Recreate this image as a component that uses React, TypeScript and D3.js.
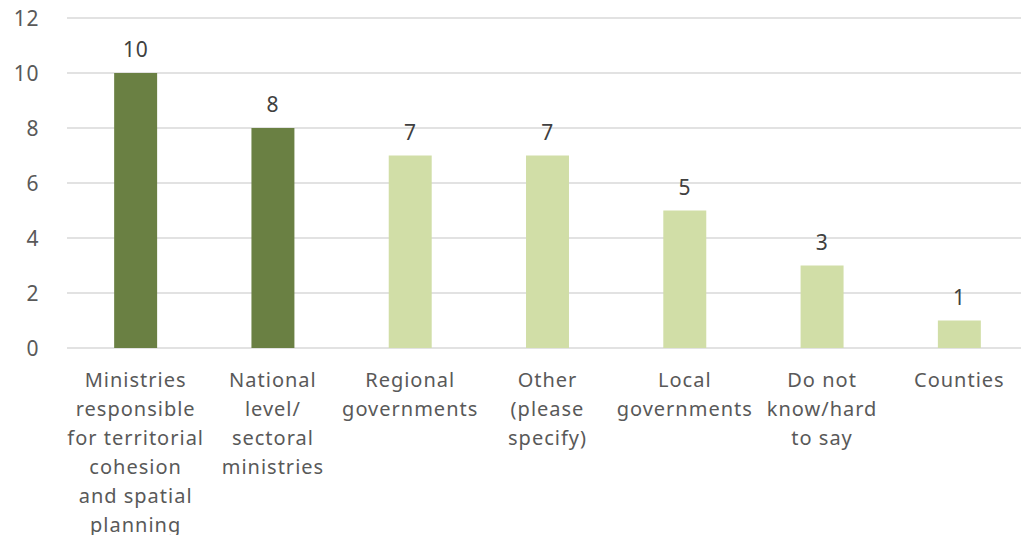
import React from "react";
import * as d3 from "d3";

const categories: string[][] = [
  ["Ministries", "responsible", "for territorial", "cohesion", "and spatial", "planning"],
  ["National", "level/", "sectoral", "ministries"],
  ["Regional", "governments"],
  ["Other", "(please", "specify)"],
  ["Local", "governments"],
  ["Do not", "know/hard", "to say"],
  ["Counties"],
];
const values: number[] = [10, 8, 7, 7, 5, 3, 1];
const highlighted: boolean[] = [true, true, false, false, false, false, false];
const yTicks: number[] = [0, 2, 4, 6, 8, 10, 12];

const W = 1021;
const H = 535;
const FONT = "'Noto Sans', 'DejaVu Sans', sans-serif";

export default function App() {
  const plotLeft = 67;
  const plotRight = 1028;
  const plotTop = 18;
  const plotBottom = 348;

  const x = d3
    .scaleBand<number>()
    .domain(values.map((_, i) => i))
    .range([plotLeft, plotRight])
    .paddingInner(0.687)
    .paddingOuter(0.3435);
  const y = d3.scaleLinear().domain([0, 12]).range([plotBottom, plotTop]);

  return (
    <svg
      width={W}
      height={H}
      style={{ position: "absolute", left: 0, top: 0, background: "#fff" }}
    >
      <rect width={W} height={H} fill="#fff" />
      {yTicks.map((t) => (
        <g key={t}>
          <line
            x1={plotLeft}
            x2={plotRight}
            y1={y(t)}
            y2={y(t)}
            stroke="#d9d9d9"
            strokeWidth={1.5}
          />
          <text
            x={39}
            y={y(t)}
            dy="0.36em"
            textAnchor="end"
            fontFamily={FONT}
            fontSize={21}
            letterSpacing={0.6}
            fill="#595959"
          >
            {t}
          </text>
        </g>
      ))}
      {values.map((v, i) => (
        <g key={i}>
          <rect
            x={x(i)}
            y={y(v)}
            width={x.bandwidth()}
            height={y(0) - y(v)}
            fill={highlighted[i] ? "#6a8043" : "#d1dea7"}
          />
          <text
            x={(x(i) as number) + x.bandwidth() / 2}
            y={y(v) - 16}
            textAnchor="middle"
            fontFamily={FONT}
            fontSize={21}
            letterSpacing={0.6}
            fill="#404040"
          >
            {v}
          </text>
          <text
            x={(x(i) as number) + x.bandwidth() / 2}
            y={387}
            textAnchor="middle"
            fontFamily={FONT}
            fontSize={20}
            letterSpacing={1}
            fill="#595959"
          >
            {categories[i].map((line, j) => (
              <tspan key={j} x={(x(i) as number) + x.bandwidth() / 2} dy={j === 0 ? 0 : 29}>
                {line}
              </tspan>
            ))}
          </text>
        </g>
      ))}
    </svg>
  );
}
